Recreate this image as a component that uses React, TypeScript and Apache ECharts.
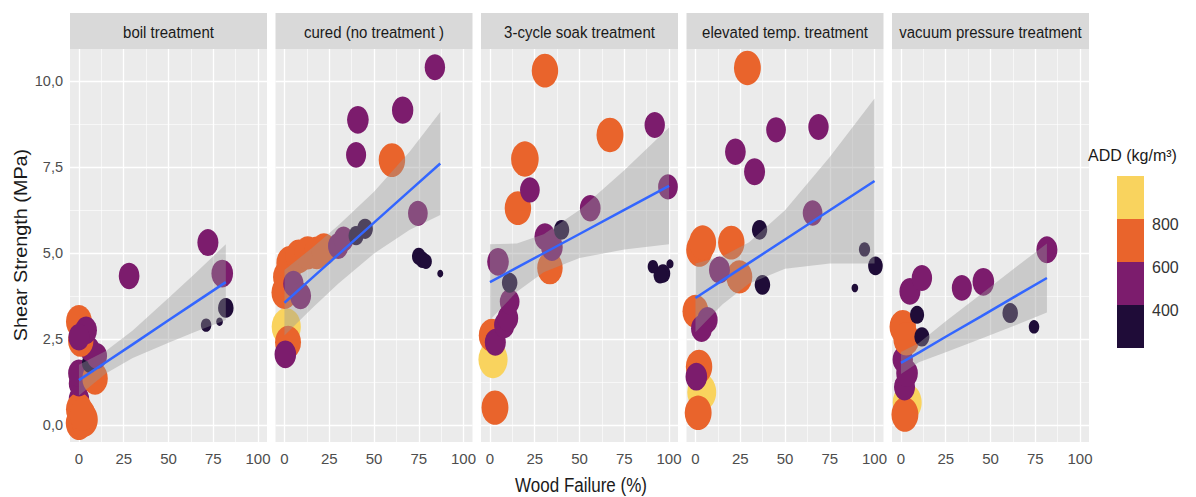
import React, { useEffect, useRef } from "react";
import * as echarts from "echarts";

const panelTitles = [
  "boil treatment",
  "cured (no treatment )",
  "3-cycle soak treatment",
  "elevated temp. treatment",
  "vacuum pressure treatment",
];

const xTicks = [0, 25, 50, 75, 100];
const xMinor = [12.5, 37.5, 62.5, 87.5];
const yTicks = [0, 2.5, 5, 7.5, 10];
const yMinor = [1.25, 3.75, 6.25, 8.75];

const addBreaks = [400, 600, 800];
const addColors = ["#1F0C38", "#7C1C6D", "#E9642C", "#F9D35E"];
const legendLabels = ["800", "600", "400"];

// [wood failure %, shear strength MPa, ADD kg/m3]
const boilPoints = [
  [0, 0.75, 520],
  [0, 0.05, 740],
  [3, 0.15, 760],
  [0, 0.45, 720],
  [2, 0.3, 700],
  [0, 1.2, 520],
  [0, 1.5, 560],
  [9, 1.35, 700],
  [6, 1.8, 390],
  [6, 2.2, 500],
  [10, 2.0, 520],
  [0, 3.0, 720],
  [1, 2.45, 700],
  [4, 2.75, 560],
  [0, 2.55, 540],
  [28, 4.33, 530],
  [72, 5.3, 540],
  [80, 4.4, 560],
  [82, 3.4, 390],
  [71, 2.9, 300],
  [78.5, 3.0, 262],
];

const curedPoints = [
  [1, 2.85, 860],
  [2, 2.4, 720],
  [0.5, 2.05, 560],
  [0, 3.85, 720],
  [1, 4.3, 740],
  [3, 4.7, 760],
  [8, 4.9, 740],
  [13, 5.0, 720],
  [18, 5.0, 700],
  [22, 5.1, 690],
  [5, 4.1, 520],
  [9, 3.75, 540],
  [30, 5.2, 520],
  [33, 5.4, 500],
  [40, 5.5, 380],
  [45, 5.7, 395],
  [41, 8.87, 560],
  [66, 9.15, 550],
  [84, 10.4, 520],
  [40, 7.85, 510],
  [60, 7.7, 740],
  [74.5, 6.15, 500],
  [75, 4.9, 350],
  [77, 4.8, 340],
  [79, 4.75, 320],
  [87, 4.4, 258],
];

const soakPoints = [
  [2.8, 0.5, 760],
  [1.7, 1.9, 860],
  [1, 2.6, 720],
  [3, 2.4, 540],
  [8, 2.9, 520],
  [10, 3.1, 530],
  [11, 3.58, 500],
  [11, 4.13, 390],
  [4.5, 4.74, 560],
  [33.5, 4.56, 700],
  [34.6, 5.17, 560],
  [30.7, 5.47, 540],
  [40, 5.67, 385],
  [15.6, 6.3, 740],
  [22.3, 6.83, 500],
  [19.5, 7.73, 790],
  [30.7, 10.3, 740],
  [67, 8.43, 760],
  [92, 8.72, 520],
  [56, 6.3, 530],
  [99.4, 6.92, 500],
  [96.6, 4.4, 370],
  [95, 4.35, 340],
  [91, 4.6, 300],
  [100.5, 4.68, 265],
];

const elevatedPoints = [
  [3.5, 0.95, 850],
  [2, 1.69, 740],
  [0.5, 1.4, 560],
  [1.5, 0.35, 760],
  [0, 3.3, 720],
  [6.7, 3.05, 520],
  [3.4, 2.8, 540],
  [2.2, 5.09, 740],
  [4, 5.3, 760],
  [20, 5.3, 740],
  [24.5, 4.3, 720],
  [13.4, 4.5, 540],
  [37.4, 4.07, 390],
  [35.8, 5.67, 385],
  [65.4, 6.16, 500],
  [22.3, 7.94, 530],
  [33, 7.36, 540],
  [45, 8.58, 500],
  [68.7, 8.66, 520],
  [29, 10.38, 760],
  [94.4, 5.1, 310],
  [100.5, 4.62, 370],
  [89, 3.98, 262],
];

const vacuumPoints = [
  [3.5, 0.65, 850],
  [2.2, 0.3, 760],
  [2, 1.1, 540],
  [3.4, 1.5, 560],
  [1, 1.9, 520],
  [1, 2.85, 740],
  [3, 2.5, 720],
  [11.7, 2.56, 380],
  [9, 3.2, 360],
  [5, 3.88, 540],
  [11.7, 4.27, 520],
  [34, 3.98, 510],
  [46, 4.16, 560],
  [61, 3.25, 390],
  [74.3, 2.85, 300],
  [81.5, 5.09, 540],
];

// smooth fit: [x, lower, fit, upper]
const boilBand = [
  [0, 0.85, 1.3, 1.75],
  [15, 1.49, 1.82, 2.15],
  [30, 1.94, 2.34, 2.74],
  [50, 2.39, 3.04, 3.69],
  [65, 2.71, 3.56, 4.41],
  [82, 3.05, 4.15, 5.25],
];
const curedBand = [
  [0, 2.6, 3.55, 4.5],
  [15, 3.37, 4.25, 5.13],
  [30, 4.1, 4.95, 5.8],
  [50, 4.98, 5.88, 6.78],
  [70, 5.67, 6.81, 7.95],
  [87, 6.1, 7.6, 9.1],
];
const soakBand = [
  [0, 3.05, 4.15, 5.25],
  [15, 3.87, 4.57, 5.27],
  [30, 4.44, 4.99, 5.54],
  [50, 4.85, 5.55, 6.25],
  [75, 5.1, 6.25, 7.4],
  [100, 5.25, 6.95, 8.65],
];
const elevatedBand = [
  [0, 2.69, 3.69, 4.69],
  [15, 3.5, 4.2, 4.9],
  [30, 4.11, 4.71, 5.31],
  [50, 4.54, 5.39, 6.24],
  [75, 4.69, 6.24, 7.79],
  [100, 4.69, 7.09, 9.49],
];
const vacuumBand = [
  [0, 1.48, 1.8, 2.12],
  [10, 1.82, 2.1, 2.38],
  [25, 2.11, 2.56, 3.01],
  [45, 2.51, 3.16, 3.81],
  [65, 2.92, 3.77, 4.62],
  [81.5, 3.27, 4.27, 5.27],
];

const panelPoints = [boilPoints, curedPoints, soakPoints, elevatedPoints, vacuumPoints];
const panelBands = [boilBand, curedBand, soakBand, elevatedBand, vacuumBand];

const SANS = "'Liberation Sans', Arial, sans-serif";

function addColor(v: number): string {
  let i = 0;
  while (i < addBreaks.length && v >= addBreaks[i]) i++;
  return addColors[i];
}
function addSize(v: number): number[] {
  const t = Math.max(0, Math.min(1, (v - 250) / 650));
  const d = 3 + 27 * Math.sqrt(t);
  return [d, d * 1.28];
}

export default function App() {
  const ref = useRef<HTMLDivElement>(null);
  useEffect(() => {
    if (!ref.current) return;
    const chart = echarts.init(ref.current, undefined, { renderer: "svg" });

    const panelLeft = (i: number) => 70 + i * 205.5;
    const panelW = 197;
    const panelTop = 49;
    const panelH = 393;
    const stripTop = 13;
    const stripH = 36;

    const grids: any[] = [];
    const xAxes: any[] = [];
    const yAxes: any[] = [];
    const series: any[] = [];
    const graphics: any[] = [];

    const gridLineData = [
      ...xTicks.map((v) => ({ xAxis: v, lineStyle: { color: "#FFFFFF", width: 1.3, type: "solid" } })),
      ...xMinor.map((v) => ({ xAxis: v, lineStyle: { color: "#FFFFFF", width: 0.6, type: "solid" } })),
      ...yTicks.map((v) => ({ yAxis: v, lineStyle: { color: "#FFFFFF", width: 1.3, type: "solid" } })),
      ...yMinor.map((v) => ({ yAxis: v, lineStyle: { color: "#FFFFFF", width: 0.6, type: "solid" } })),
    ];

    for (let i = 0; i < 5; i++) {
      const left = panelLeft(i);
      grids.push({
        left,
        top: panelTop,
        width: panelW,
        height: panelH,
        show: true,
        backgroundColor: "#EBEBEB",
        borderWidth: 0,
        containLabel: false,
      });
      xAxes.push({
        type: "value",
        gridIndex: i,
        min: -5,
        max: 105,
        axisLine: { show: false },
        splitLine: { show: false },
        axisTick: { show: true, customValues: xTicks, length: 4, lineStyle: { color: "#333333", width: 1 } },
        axisLabel: {
          show: true,
          customValues: xTicks,
          color: "#4D4D4D",
          fontSize: 15,
          fontFamily: SANS,
          margin: 9,
        },
      });
      yAxes.push({
        type: "value",
        gridIndex: i,
        min: -0.5,
        max: 10.93,
        axisLine: { show: false },
        splitLine: { show: false },
        axisTick: { show: i === 0, customValues: yTicks, length: 4, lineStyle: { color: "#333333", width: 1 } },
        axisLabel: {
          show: i === 0,
          customValues: yTicks,
          color: "#4D4D4D",
          fontSize: 14.5,
          fontFamily: SANS,
          margin: 7,
          formatter: (v: number) => v.toFixed(1).replace(".", ","),
        },
      });

      const band = panelBands[i];
      series.push({
        type: "scatter",
        xAxisIndex: i,
        yAxisIndex: i,
        z: 2,
        data: panelPoints[i],
        symbol: "circle",
        symbolSize: (val: number[]) => addSize(val[2]),
        itemStyle: { color: (p: any) => addColor(p.data[2]), opacity: 1 },
        silent: true,
        markLine: {
          silent: true,
          symbol: "none",
          z: 1,
          label: { show: false },
          data: gridLineData,
        },
      });
      series.push({
        type: "custom",
        xAxisIndex: i,
        yAxisIndex: i,
        z: 3,
        silent: true,
        data: band,
        encode: { x: 0, y: [1, 3] },
        renderItem: (params: any, api: any) => {
          if (params.dataIndex !== 0) return null;
          const top = band.map((r) => api.coord([r[0], r[3]]));
          const bot = band
            .slice()
            .reverse()
            .map((r) => api.coord([r[0], r[1]]));
          return {
            type: "polygon",
            shape: { points: top.concat(bot) },
            style: { fill: "rgba(153,153,153,0.4)" },
          };
        },
      });
      series.push({
        type: "line",
        xAxisIndex: i,
        yAxisIndex: i,
        z: 4,
        silent: true,
        symbol: "none",
        data: band.map((r) => [r[0], r[2]]),
        lineStyle: { color: "#3366FF", width: 2.5 },
      });

      graphics.push({
        type: "rect",
        left,
        top: stripTop,
        shape: { width: panelW, height: stripH },
        style: { fill: "#D9D9D9" },
        silent: true,
      });
      graphics.push({
        type: "text",
        x: left + panelW / 2,
        y: stripTop + stripH / 2 + 1,
        scaleY: 1.15,
        style: {
          text: panelTitles[i],
          fontSize: 15,
          fontFamily: SANS,
          fill: "#1A1A1A",
          align: "center",
          verticalAlign: "middle",
        },
        silent: true,
      });
    }

    graphics.push({
      type: "text",
      x: 581,
      y: 485,
      scaleY: 1.15,
      style: {
        text: "Wood Failure (%)",
        fontSize: 17,
        fontFamily: SANS,
        fill: "#1A1A1A",
        align: "center",
        verticalAlign: "middle",
      },
      silent: true,
    });
    graphics.push({
      type: "text",
      x: 21,
      y: 245,
      rotation: Math.PI / 2,
      scaleX: 1.1,
      style: {
        text: "Shear Strength (MPa)",
        fontSize: 18,
        fontFamily: SANS,
        fill: "#1A1A1A",
        align: "center",
        verticalAlign: "middle",
      },
      silent: true,
    });

    // legend
    graphics.push({
      type: "text",
      x: 1088,
      y: 155,
      style: {
        text: "ADD (kg/m³)",
        fontSize: 16,
        fontFamily: SANS,
        fill: "#1A1A1A",
        align: "left",
        verticalAlign: "middle",
      },
      silent: true,
    });
    const barLeft = 1117;
    const barW = 27;
    const barTop = 176;
    const binH = 43;
    const legendOrder = addColors.slice().reverse();
    legendOrder.forEach((c, k) => {
      graphics.push({
        type: "rect",
        left: barLeft,
        top: barTop + k * binH,
        shape: { width: barW, height: binH },
        style: { fill: c },
        silent: true,
      });
    });
    legendLabels.forEach((lab, k) => {
      graphics.push({
        type: "text",
        x: 1152,
        y: barTop + (k + 1) * binH + 5,
        style: {
          text: lab,
          fontSize: 16,
          fontFamily: SANS,
          fill: "#333333",
          align: "left",
          verticalAlign: "middle",
        },
        silent: true,
      });
    });

    chart.setOption({
      animation: false,
      backgroundColor: "#FFFFFF",
      grid: grids,
      xAxis: xAxes,
      yAxis: yAxes,
      series,
      graphic: graphics,
    });

    return () => {
      chart.dispose();
    };
  }, []);

  return (
    <div
      ref={ref}
      style={{ position: "fixed", left: 0, top: 0, width: 1196, height: 497 }}
    />
  );
}
